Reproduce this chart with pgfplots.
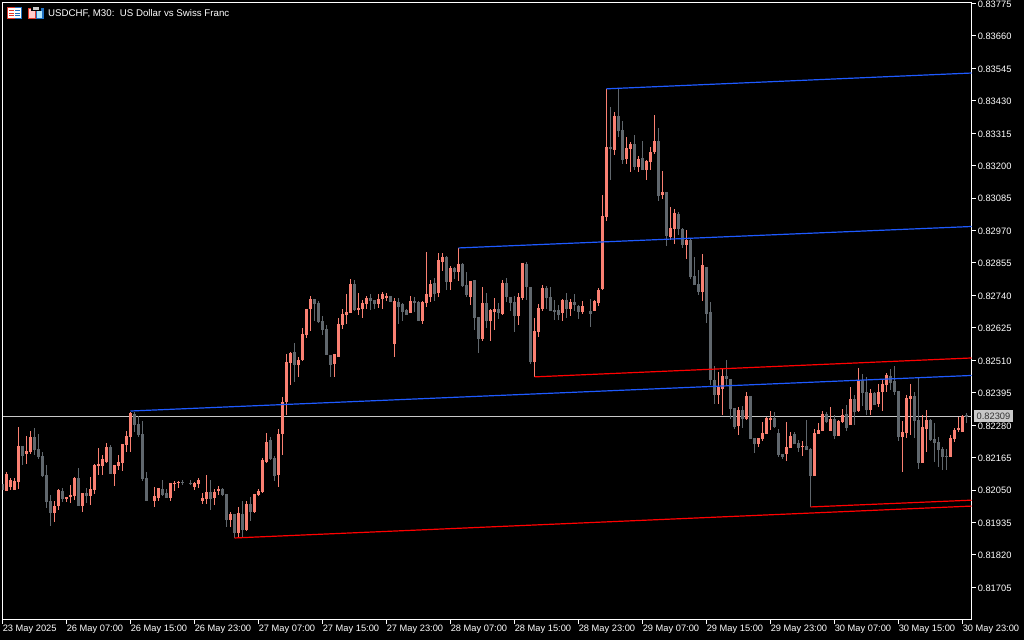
\documentclass[border=0pt]{standalone}
\usepackage{fontspec}
\setmainfont{Liberation Sans}
\usepackage{pgfplots}
\usepackage{pgfplotstable}
\pgfplotsset{compat=1.18}
\definecolor{bull}{HTML}{FA8072}
\definecolor{bear}{HTML}{60676D}
\definecolor{lineblue}{HTML}{1E5AFF}
\definecolor{linered}{HTML}{FF0000}
\definecolor{bidline}{HTML}{C8C8C8}
\definecolor{iconred}{HTML}{E0392B}
\definecolor{iconblue}{HTML}{1F6FC0}

% USDCHF M30 bars: index, open, high, low, close
\pgfplotstableread{
i o h l c
0 0.82071 0.82071 0.82050 0.82050
1 0.82046 0.82114 0.82046 0.82107
2 0.82061 0.82092 0.82050 0.82085
3 0.82050 0.82092 0.82050 0.82082
4 0.82078 0.82273 0.82053 0.82206
5 0.82206 0.82206 0.82139 0.82170
6 0.82178 0.82241 0.82142 0.82188
7 0.82185 0.82259 0.82178 0.82238
8 0.82238 0.82270 0.82174 0.82192
9 0.82195 0.82248 0.82160 0.82167
10 0.82170 0.82185 0.82096 0.82100
11 0.82103 0.82139 0.81986 0.82007
12 0.82011 0.82032 0.81922 0.81968
13 0.81968 0.82011 0.81936 0.81993
14 0.81993 0.82053 0.81979 0.82050
15 0.82046 0.82057 0.82007 0.82018
16 0.82018 0.82025 0.82007 0.82025
17 0.82025 0.82068 0.82004 0.82032
18 0.82029 0.82096 0.82014 0.82092
19 0.82092 0.82128 0.81993 0.81993
20 0.81993 0.82039 0.81972 0.82039
21 0.82039 0.82057 0.82004 0.82029
22 0.82029 0.82096 0.81997 0.82053
23 0.82050 0.82142 0.82036 0.82139
24 0.82135 0.82199 0.82103 0.82142
25 0.82135 0.82174 0.82103 0.82160
26 0.82149 0.82217 0.82146 0.82202
27 0.82202 0.82209 0.82107 0.82107
28 0.82107 0.82139 0.82064 0.82139
29 0.82135 0.82174 0.82121 0.82149
30 0.82146 0.82213 0.82117 0.82213
31 0.82209 0.82259 0.82185 0.82241
32 0.82238 0.82326 0.82185 0.82323
33 0.82319 0.82326 0.82255 0.82280
34 0.82284 0.82312 0.82238 0.82245
35 0.82248 0.82295 0.82082 0.82089
36 0.82092 0.82114 0.82011 0.82011
38 0.82011 0.82061 0.81990 0.82029
39 0.82022 0.82057 0.82011 0.82057
40 0.82053 0.82085 0.82029 0.82032
41 0.82039 0.82053 0.82022 0.82022
42 0.82022 0.82075 0.82011 0.82075
43 0.82071 0.82082 0.82046 0.82075
44 0.82075 0.82082 0.82057 0.82078
45 0.82078 0.82085 0.82068 0.82075
47 0.82075 0.82085 0.82068 0.82071
48 0.82061 0.82078 0.82050 0.82075
49 0.82071 0.82092 0.82057 0.82085
50 0.82011 0.82039 0.82000 0.82022
51 0.82018 0.82103 0.82000 0.82043
52 0.82043 0.82085 0.81979 0.82018
53 0.82022 0.82053 0.81997 0.82043
54 0.82046 0.82064 0.82032 0.82053
55 0.82053 0.82057 0.82029 0.82032
56 0.82036 0.82036 0.81919 0.81944
57 0.81944 0.81972 0.81919 0.81965
58 0.81965 0.81965 0.81880 0.81898
59 0.81898 0.81990 0.81883 0.81968
60 0.81965 0.82011 0.81883 0.81908
61 0.81908 0.82011 0.81905 0.82000
62 0.82000 0.82025 0.81940 0.81972
63 0.81972 0.82036 0.81968 0.82036
64 0.82032 0.82053 0.82029 0.82046
65 0.82043 0.82163 0.82039 0.82156
66 0.82149 0.82252 0.82146 0.82220
67 0.82227 0.82238 0.82156 0.82160
68 0.82163 0.82170 0.82082 0.82100
69 0.82103 0.82266 0.82061 0.82248
70 0.82248 0.82380 0.82174 0.82362
71 0.82362 0.82532 0.82316 0.82504
72 0.82500 0.82539 0.82422 0.82536
73 0.82539 0.82571 0.82433 0.82493
74 0.82493 0.82521 0.82451 0.82511
75 0.82511 0.82624 0.82507 0.82603
76 0.82599 0.82692 0.82589 0.82692
77 0.82692 0.82738 0.82614 0.82727
78 0.82727 0.82727 0.82649 0.82709
79 0.82713 0.82720 0.82642 0.82645
80 0.82649 0.82667 0.82599 0.82617
81 0.82621 0.82635 0.82529 0.82529
82 0.82529 0.82529 0.82451 0.82493
83 0.82497 0.82532 0.82451 0.82532
84 0.82521 0.82660 0.82521 0.82638
85 0.82635 0.82692 0.82621 0.82674
86 0.82670 0.82745 0.82638 0.82681
87 0.82678 0.82798 0.82678 0.82780
88 0.82780 0.82794 0.82685 0.82688
89 0.82688 0.82748 0.82670 0.82695
90 0.82692 0.82724 0.82660 0.82713
91 0.82709 0.82738 0.82692 0.82731
92 0.82731 0.82745 0.82688 0.82720
93 0.82724 0.82724 0.82692 0.82709
94 0.82709 0.82745 0.82695 0.82727
95 0.82727 0.82752 0.82692 0.82745
96 0.82731 0.82748 0.82720 0.82738
97 0.82738 0.82738 0.82716 0.82716
98 0.82568 0.82731 0.82521 0.82720
99 0.82716 0.82731 0.82638 0.82699
100 0.82709 0.82713 0.82649 0.82681
101 0.82688 0.82692 0.82670 0.82670
102 0.82678 0.82738 0.82678 0.82720
103 0.82720 0.82734 0.82681 0.82713
104 0.82716 0.82720 0.82649 0.82649
105 0.82649 0.82720 0.82638 0.82716
106 0.82713 0.82894 0.82699 0.82745
107 0.82734 0.82794 0.82716 0.82780
108 0.82784 0.82802 0.82720 0.82745
109 0.82748 0.82890 0.82734 0.82865
110 0.82858 0.82890 0.82826 0.82876
111 0.82876 0.82880 0.82759 0.82787
112 0.82787 0.82844 0.82759 0.82837
113 0.82837 0.82840 0.82798 0.82823
114 0.82823 0.82908 0.82791 0.82851
115 0.82851 0.82855 0.82770 0.82773
116 0.82777 0.82823 0.82734 0.82741
117 0.82734 0.82791 0.82706 0.82791
118 0.82794 0.82794 0.82617 0.82660
119 0.82663 0.82663 0.82536 0.82585
120 0.82585 0.82770 0.82578 0.82713
121 0.82713 0.82748 0.82624 0.82649
122 0.82649 0.82692 0.82578 0.82688
123 0.82681 0.82731 0.82617 0.82692
124 0.82692 0.82713 0.82656 0.82678
125 0.82674 0.82794 0.82670 0.82784
126 0.82784 0.82802 0.82716 0.82734
127 0.82734 0.82734 0.82685 0.82713
128 0.82716 0.82738 0.82610 0.82667
129 0.82667 0.82748 0.82635 0.82734
130 0.82731 0.82855 0.82724 0.82855
131 0.82851 0.82858 0.82724 0.82770
132 0.82770 0.82770 0.82497 0.82504
133 0.82504 0.82660 0.82451 0.82614
134 0.82610 0.82709 0.82592 0.82695
135 0.82692 0.82777 0.82685 0.82766
136 0.82766 0.82773 0.82692 0.82731
137 0.82734 0.82770 0.82685 0.82685
138 0.82688 0.82724 0.82653 0.82681
139 0.82688 0.82706 0.82653 0.82670
140 0.82678 0.82727 0.82649 0.82724
141 0.82724 0.82748 0.82660 0.82692
142 0.82692 0.82727 0.82667 0.82716
143 0.82716 0.82745 0.82685 0.82706
144 0.82702 0.82706 0.82656 0.82681
145 0.82681 0.82720 0.82674 0.82702
147 0.82685 0.82727 0.82628 0.82674
148 0.82685 0.82724 0.82685 0.82720
149 0.82713 0.82766 0.82702 0.82759
150 0.82762 0.83096 0.82759 0.83021
151 0.83018 0.83472 0.83004 0.83266
152 0.83266 0.83408 0.83149 0.83259
153 0.83255 0.83390 0.83238 0.83376
154 0.83376 0.83472 0.83302 0.83323
155 0.83326 0.83358 0.83206 0.83220
156 0.83223 0.83302 0.83206 0.83262
157 0.83259 0.83284 0.83177 0.83276
158 0.83276 0.83308 0.83184 0.83195
159 0.83195 0.83234 0.83177 0.83223
160 0.83227 0.83287 0.83184 0.83184
161 0.83184 0.83220 0.83149 0.83216
162 0.83213 0.83266 0.83184 0.83248
163 0.83248 0.83379 0.83241 0.83287
164 0.83287 0.83333 0.83074 0.83092
165 0.83096 0.83181 0.83082 0.83106
166 0.83106 0.83106 0.82915 0.82950
167 0.82947 0.83053 0.82936 0.82979
168 0.82975 0.83046 0.82922 0.83032
169 0.83028 0.83035 0.82954 0.82975
170 0.82975 0.82979 0.82908 0.82919
171 0.82919 0.82972 0.82869 0.82936
172 0.82936 0.82943 0.82798 0.82805
173 0.82809 0.82876 0.82777 0.82777
174 0.82780 0.82830 0.82741 0.82752
175 0.82752 0.82887 0.82720 0.82848
176 0.82840 0.82840 0.82642 0.82674
177 0.82681 0.82716 0.82422 0.82440
178 0.82440 0.82490 0.82355 0.82387
179 0.82387 0.82468 0.82355 0.82415
180 0.82408 0.82479 0.82316 0.82454
181 0.82454 0.82511 0.82422 0.82443
182 0.82443 0.82443 0.82302 0.82337
183 0.82341 0.82341 0.82266 0.82273
184 0.82277 0.82344 0.82245 0.82334
185 0.82334 0.82348 0.82270 0.82302
186 0.82302 0.82397 0.82298 0.82383
187 0.82383 0.82383 0.82231 0.82231
188 0.82234 0.82234 0.82181 0.82213
189 0.82213 0.82234 0.82202 0.82234
190 0.82231 0.82291 0.82224 0.82252
191 0.82248 0.82309 0.82248 0.82305
192 0.82298 0.82330 0.82263 0.82305
193 0.82305 0.82326 0.82270 0.82273
194 0.82252 0.82266 0.82167 0.82174
195 0.82178 0.82178 0.82160 0.82167
196 0.82178 0.82291 0.82153 0.82202
197 0.82199 0.82255 0.82199 0.82241
198 0.82248 0.82255 0.82213 0.82213
199 0.82217 0.82227 0.82185 0.82199
200 0.82202 0.82224 0.82170 0.82206
201 0.82206 0.82298 0.82192 0.82192
202 0.82195 0.82199 0.81990 0.82100
203 0.82100 0.82266 0.82100 0.82252
204 0.82248 0.82287 0.82248 0.82263
205 0.82259 0.82330 0.82259 0.82319
206 0.82319 0.82326 0.82287 0.82291
207 0.82259 0.82344 0.82259 0.82302
208 0.82302 0.82316 0.82231 0.82241
209 0.82241 0.82298 0.82241 0.82295
210 0.82291 0.82337 0.82287 0.82316
211 0.82319 0.82351 0.82259 0.82270
212 0.82280 0.82415 0.82280 0.82372
213 0.82372 0.82387 0.82280 0.82326
214 0.82330 0.82482 0.82326 0.82440
215 0.82440 0.82461 0.82348 0.82394
216 0.82397 0.82451 0.82316 0.82334
217 0.82334 0.82408 0.82316 0.82394
218 0.82394 0.82397 0.82351 0.82351
219 0.82355 0.82426 0.82344 0.82397
220 0.82397 0.82440 0.82330 0.82426
221 0.82422 0.82465 0.82397 0.82458
222 0.82454 0.82479 0.82404 0.82429
223 0.82436 0.82490 0.82387 0.82397
224 0.82401 0.82401 0.82224 0.82238
225 0.82238 0.82295 0.82114 0.82255
226 0.82252 0.82387 0.82234 0.82376
227 0.82372 0.82426 0.82245 0.82383
228 0.82383 0.82397 0.82234 0.82295
229 0.82298 0.82447 0.82124 0.82146
230 0.82146 0.82316 0.82146 0.82273
231 0.82266 0.82334 0.82185 0.82298
232 0.82298 0.82302 0.82224 0.82227
233 0.82231 0.82287 0.82149 0.82217
234 0.82220 0.82238 0.82131 0.82192
235 0.82195 0.82202 0.82121 0.82167
236 0.82170 0.82195 0.82121 0.82167
237 0.82167 0.82245 0.82167 0.82234
238 0.82231 0.82270 0.82220 0.82263
239 0.82263 0.82309 0.82255 0.82270
240 0.82255 0.82316 0.82255 0.82312
241 0.82316 0.82323 0.82287 0.82309
}\bars

\begin{document}
\fontsize{9.3pt}{11pt}\selectfont
\begin{tikzpicture}[x=1pt,y=1pt]
\path[use as bounding box,fill=black] (0,0) rectangle (1024,640);
\begin{axis}[
  at={(2.5pt,20.5pt)},anchor=south west,
  scale only axis,width=969pt,height=617pt,
  xmin=0,xmax=242.25,ymin=0.81591,ymax=0.83778,
  axis line style={white,line width=1pt},
  tick style={white,line width=1pt},
  tick align=outside,major tick length=4pt,
  xtick pos=lower,ytick pos=right,
  yticklabel pos=right,
  scaled y ticks=false,
  tick label style={white,font=\fontsize{9.3pt}{11pt}\selectfont},
  xtick={0,16,...,240},
  xticklabels={23 May 2025,26 May 07:00,26 May 15:00,26 May 23:00,27 May 07:00,27 May 15:00,27 May 23:00,28 May 07:00,28 May 15:00,28 May 23:00,29 May 07:00,29 May 15:00,29 May 23:00,30 May 07:00,30 May 15:00,30 May 23:00},
  xticklabel style={anchor=north west,xshift=-3pt,yshift=1.5pt},
  ytick={0.83775,0.83660,0.83545,0.83430,0.83315,0.83200,0.83085,0.82970,0.82855,0.82740,0.82625,0.82510,0.82395,0.82280,0.82165,0.82050,0.81935,0.81820,0.81705},
  yticklabels={0.83775,0.83660,0.83545,0.83430,0.83315,0.83200,0.83085,0.82970,0.82855,0.82740,0.82625,0.82510,0.82395,0.82280,0.82165,0.82050,0.81935,0.81820,0.81705},
  yticklabel style={xshift=-1pt,yshift=-0.7pt},
]
% bid line
\addplot[bidline,line width=1pt,forget plot] coordinates {(0,0.82309)(242.25,0.82309)};
% wicks
\addplot[draw=none,forget plot,error bars/.cd,y dir=both,y explicit,error mark=none,error bar style={bull,line width=1pt}]
  table[x expr={ifthenelse(\thisrow{c}>=\thisrow{o},\thisrow{i},nan)},y=c,y error plus expr=\thisrow{h}-\thisrow{c},y error minus expr=\thisrow{c}-\thisrow{l}] {\bars};
\addplot[draw=none,forget plot,error bars/.cd,y dir=both,y explicit,error mark=none,error bar style={bear,line width=1pt}]
  table[x expr={ifthenelse(\thisrow{c}<\thisrow{o},\thisrow{i},nan)},y=o,y error plus expr=\thisrow{h}-\thisrow{o},y error minus expr=\thisrow{o}-\thisrow{l}] {\bars};
% bodies
\addplot[draw=none,forget plot,error bars/.cd,y dir=minus,y explicit,error mark=none,error bar style={bull,line width=3pt}]
  table[x expr={ifthenelse(\thisrow{c}>=\thisrow{o},\thisrow{i},nan)},y=c,y error minus expr=\thisrow{c}-\thisrow{o}] {\bars};
\addplot[draw=none,forget plot,error bars/.cd,y dir=minus,y explicit,error mark=none,error bar style={bear,line width=3pt}]
  table[x expr={ifthenelse(\thisrow{c}<\thisrow{o},\thisrow{i},nan)},y=o,y error minus expr=\thisrow{o}-\thisrow{c}] {\bars};
% trend lines
\addplot[lineblue,line width=1.2pt,forget plot] coordinates {(32,0.82330)(242.25,0.82456)};
\addplot[lineblue,line width=1.2pt,forget plot] coordinates {(114,0.82908)(242.25,0.82984)};
\addplot[lineblue,line width=1.2pt,forget plot] coordinates {(151,0.83472)(242.25,0.83528)};
\addplot[linered,line width=1.2pt,forget plot] coordinates {(58,0.81880)(242.25,0.81993)};
\addplot[linered,line width=1.2pt,forget plot] coordinates {(133,0.82451)(242.25,0.82518)};
\addplot[linered,line width=1.2pt,forget plot] coordinates {(202,0.81990)(242.25,0.82014)};
\end{axis}
% symbol heading and its two toolbar icons
\node[anchor=west,inner sep=0pt,white,font=\fontsize{9.7pt}{11pt}\selectfont] at (48,626.5) {USDCHF, M30:\ \ US Dollar vs Swiss Franc};
\fill[white] (7.5,621.5) rectangle (21.5,632);
\draw[iconred,line width=1pt] (14.5,621.5) -- (7.5,621.5) -- (7.5,632) -- (14.5,632);
\draw[iconblue,line width=1pt] (14.5,621.5) -- (21.5,621.5) -- (21.5,632) -- (14.5,632);
\foreach \yy in {624.2,627,629.8}{
  \fill[iconred] (9,\yy-.35) rectangle (14,\yy+.35);
  \fill[iconblue] (15,\yy-.35) rectangle (20,\yy+.35);
}
\fill[iconred] (27.5,621) rectangle (35.5,632);
\fill[iconblue] (35.5,621) rectangle (43.5,632);
\fill[red!20!white] (29,622.2) rectangle (34.5,630.8);
\fill[cyan!30!white] (36.5,622.2) rectangle (42,628.5);
\fill[black] (30.5,629) rectangle (40.5,633);
\fill[gray!40!white] (32.5,630) rectangle (38.5,633);
% price tag of the last bid
\fill[bidline] (974,218) rectangle (1013,230);
\node[anchor=center,inner sep=0pt,black!80] at (993.5,224) {0.82309};
\end{tikzpicture}
\end{document}
